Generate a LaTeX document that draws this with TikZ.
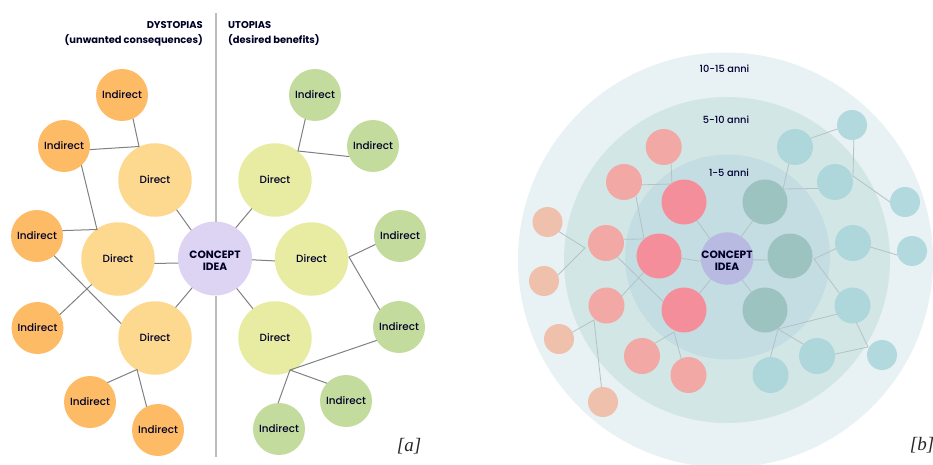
\documentclass[tikz,border=0pt]{standalone}
\usepackage{fontspec}
\setmainfont{Poppins}
\newfontfamily\medf{Poppins Medium}
\newfontfamily\serifit{Liberation Serif}
\newcommand\loweredline[1]{\smash{\raisebox{-6.2pt}{#1}}}
\tikzset{
  x=1pt,y=-1pt,
  bub/.style={circle,inner sep=0pt,outer sep=0pt,text=black!85!blue,font=\fontsize{10.4}{12}\medf},
  bigd/.style={bub,minimum size=73.5pt},
  smalli/.style={bub,minimum size=52pt},
  ori/.style={smalli,fill=indor},
  ord/.style={bigd,fill=dirora},
  gri/.style={smalli,fill=indgr},
  grd/.style={bigd,fill=dirgr},
  conc/.style={bub,minimum size=74pt,fill=conca,align=center,font=\fontsize{10.6}{12.5}\selectfont\bfseries},
  linka/.style={draw=linkgray,line width=1pt},
  linkb/.style={draw=linkpale,line width=0.8pt},
  ring/.style={circle,inner sep=0pt,outer sep=0pt},
  bd/.style={circle,inner sep=0pt,outer sep=0pt,minimum size=45pt},
  bm/.style={circle,inner sep=0pt,outer sep=0pt,minimum size=36pt},
  bs/.style={circle,inner sep=0pt,outer sep=0pt,minimum size=30pt},
  head/.style={inner sep=0pt,font=\fontsize{9.9}{12}\selectfont\bfseries,text=black!85!blue},
  tag/.style={inner sep=0pt,font=\fontsize{19}{22}\selectfont\serifit\itshape,text=black!85},
  yr/.style={inner sep=0pt,font=\fontsize{9.8}{12}\medf,text=black!80!blue},
}
\definecolor{indor}{HTML}{FDBB66}
\definecolor{dirora}{HTML}{FDD88F}
\definecolor{indgr}{HTML}{C3DB9C}
\definecolor{dirgr}{HTML}{E8ECA2}
\definecolor{conca}{HTML}{DDD4F3}
\definecolor{linkgray}{HTML}{808080}
\definecolor{linkpale}{HTML}{B4C2C4}
\definecolor{divider}{HTML}{BDBDBD}
\definecolor{ringa}{HTML}{E8F1F4}
\definecolor{ringb}{HTML}{D3E6E6}
\definecolor{ringc}{HTML}{C4DDE2}
\definecolor{concb}{HTML}{B9BAE2}
\definecolor{reda}{HTML}{F58E9B}
\definecolor{redb}{HTML}{F2A8A4}
\definecolor{redc}{HTML}{EFC0AC}
\definecolor{teala}{HTML}{9CC3BF}
\definecolor{tealb}{HTML}{ADD7DB}
\definecolor{tealc}{HTML}{B2DADE}
\begin{document}
\begin{tikzpicture}
\useasboundingbox (0,0) rectangle (933,465);
% ---------- part a
\coordinate (dvtop) at (216,13);
\coordinate (dvbot) at (216,457);
\node[conc] (c) at (215,258.5) {\loweredline{CONCEPT}\\\loweredline{IDEA}};
\draw[draw=divider,line width=1.3pt] (dvtop) -- (c.north -| dvtop);
\draw[draw=divider,line width=1.3pt] (c.south -| dvbot) -- (dvbot);
\node[head,anchor=east] (hd1) at (203,25) {DYSTOPIAS};
\node[head,anchor=east] (hd2) at (203,40) {(unwanted consequences)};
\node[head,anchor=west] (hu1) at (228,25) {UTOPIAS};
\node[head,anchor=west] (hu2) at (228,40) {(desired benefits)};
\node[ord] (dt) at (155,180) {Direct};
\node[ord] (dm) at (118,259) {Direct};
\node[ord] (db) at (155,338) {Direct};
\node[ori] (i1) at (122,95) {Indirect};
\node[ori] (i2) at (64,146) {Indirect};
\node[ori] (i3) at (37,236) {Indirect};
\node[ori] (i4) at (37.5,328) {Indirect};
\node[ori] (i5) at (90,402) {Indirect};
\node[ori] (i6) at (158,430) {Indirect};
\node[grd] (rt) at (275,180) {Direct};
\node[grd] (rm) at (311.5,259) {Direct};
\node[grd] (rb) at (275,338) {Direct};
\node[gri] (g1) at (315,95) {Indirect};
\node[gri] (g2) at (373,146) {Indirect};
\node[gri] (g3) at (400,236) {Indirect};
\node[gri] (g4) at (399,327) {Indirect};
\node[gri] (g5) at (346,401) {Indirect};
\node[gri] (g6) at (279,429) {Indirect};
\node[tag] (ta) at (409,446) {[a]};
\coordinate (j1) at (139,146.5);
\coordinate (j2) at (97,229.5);
\coordinate (j3) at (137,369.5);
\coordinate (j4) at (298,151);
\coordinate (j5) at (349,257);
\coordinate (j6) at (290,370);
\draw[linka] (i1.-65) -- (j1) -- (i2.-8);
\draw[linka] (i2.-48) -- (j2) -- (i3.12);
\draw[linka] (i3.-49) -- (db.157);
\draw[linka] (i4.31) -- (dm.-136);
\draw[linka] (i5.48) -- (j3) -- (i6.116);
\draw[linka] (dt.-54) -- (c.130);
\draw[linka] (dm.-7) -- (c.187);
\draw[linka] (db.56) -- (c.232);
\draw[linka] (g1.-112) -- (j4) -- (g2.204);
\draw[linka] (rt.231) -- (c.56);
\draw[linka] (rm.183) -- (c.-2);
\draw[linka] (rb.127) -- (c.-54);
\draw[linka] (g3.199) -- (j5) -- (g4.138);
\draw[linka] (g4.211) -- (j6) -- (g6.92);
\draw[linka] (j6) -- (g5.137);
% ---------- part b
\node[ring,minimum size=415pt,fill=ringa] (ra) at (725.5,260) {};
\node[ring,minimum size=326pt,fill=ringb] (rbb) at (727,260) {};
\node[ring,minimum size=205pt,fill=ringc] (rc) at (727.5,257) {};
\node[yr] (y1) at (724.5,69) {10-15 anni};
\node[yr] (y2) at (726,120) {5-10 anni};
\node[yr] (y3) at (729,173) {1-5 anni};
\node[circle,inner sep=0pt,outer sep=0pt,minimum size=50pt,fill=concb,align=center,text=black!85!blue,font=\fontsize{10.6}{12.5}\selectfont\bfseries] (cb) at (727,258.5) {\loweredline{CONCEPT}\\\loweredline{IDEA}};
\node[bd,fill=reda] (r1) at (684,202) {};
\node[bd,fill=reda] (r2) at (659,256) {};
\node[bd,fill=reda] (r3) at (684,310) {};
\node[bd,fill=teala] (t1) at (765,202) {};
\node[bd,fill=teala] (t2) at (790,256) {};
\node[bd,fill=teala] (t3) at (765,310) {};
\node[bm,fill=redb] (p1) at (663.7,147) {};
\node[bm,fill=redb] (p2) at (624,182) {};
\node[bm,fill=redb] (p3) at (606,243) {};
\node[bm,fill=redb] (p4) at (606.5,305.5) {};
\node[bm,fill=redb] (p5) at (642,356) {};
\node[bm,fill=redb] (p6) at (688.5,375) {};
\node[bs,fill=redc] (o1) at (547.5,222) {};
\node[bs,fill=redc] (o2) at (544,281) {};
\node[bs,fill=redc] (o3) at (559,339) {};
\node[bs,fill=redc] (o4) at (603,402) {};
\node[bm,fill=tealb] (l1) at (795,147) {};
\node[bm,fill=tealb] (l2) at (835,182) {};
\node[bm,fill=tealb] (l3) at (853,243) {};
\node[bm,fill=tealb] (l4) at (852.5,305.5) {};
\node[bm,fill=tealb] (l5) at (817,356) {};
\node[bm,fill=tealb] (l6) at (770.5,375) {};
\node[bs,fill=tealc] (s1) at (852,125) {};
\node[bs,fill=tealc] (s2) at (905,202) {};
\node[bs,fill=tealc] (s3) at (912,251) {};
\node[bs,fill=tealc] (s4) at (882,355) {};
\node[tag] (tb) at (922,445) {[b]};
\coordinate (j7) at (672,184);
\coordinate (j8) at (644,239);
\coordinate (j9) at (585,248);
\coordinate (j10) at (594,320);
\coordinate (j11) at (674,332);
\coordinate (j12) at (783,189);
\coordinate (j13) at (853,176);
\coordinate (j14) at (814,259);
\coordinate (j15) at (778,329);
\coordinate (j16) at (868,347);
\draw[linkb] (p1.-66) -- (j7) -- (p2.-9);
\draw[linkb] (p2.-49) -- (j8) -- (p3.12);
\draw[linkb] (r1.-55) -- (cb.131);
\draw[linkb] (o1.-40) -- (j9) -- (o2.23);
\draw[linkb] (p3.-51) -- (r3.158);
\draw[linkb] (p4.32) -- (r2.-133);
\draw[linkb] (r2.-6) -- (cb.186);
\draw[linkb] (r3.47) -- (cb.232);
\draw[linkb] (o3.27) -- (j10) -- (o4.96);
\draw[linkb] (p5.45) -- (j11) -- (p6.114);
\draw[linkb] (l1.-110) -- (j12) -- (l2.201);
\draw[linkb] (l1.29) -- (s1.195);
\draw[linkb] (s1.-83) -- (j13) -- (s2.180);
\draw[linkb] (t1.-123) -- (cb.57);
\draw[linkb] (l3.198) -- (j14) -- (l4.137);
\draw[linkb] (l3.-13) -- (s3.196);
\draw[linkb] (t2.190) -- (cb.-3);
\draw[linkb] (t3.127) -- (cb.-55);
\draw[linkb] (l4.209) -- (j15) -- (l6.90);
\draw[linkb] (j15) -- (l5.139);
\draw[linkb] (l4.-77) -- (j16) -- (l5.6);
\end{tikzpicture}
\end{document}
